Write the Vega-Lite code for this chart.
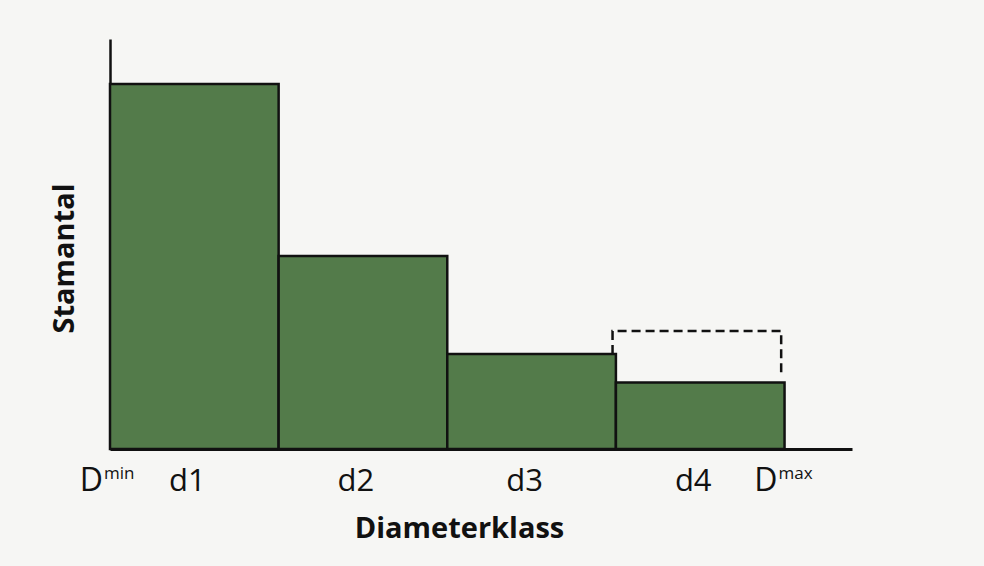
{
  "$schema": "https://vega.github.io/schema/vega-lite/v6.json",
  "width": 742,
  "height": 410,
  "autosize": {"type": "none"},
  "padding": {"left": 110, "top": 39, "right": 132, "bottom": 117},
  "background": "#f6f6f4",
  "config": {"view": {"stroke": null}, "font": "Open Sans"},
  "layer": [
    {
      "data": {"values": [
        {"klass": "d1", "lower": 0, "upper": 1, "stamantal": 89.0},
        {"klass": "d2", "lower": 1, "upper": 2, "stamantal": 47.1},
        {"klass": "d3", "lower": 2, "upper": 3, "stamantal": 23.2},
        {"klass": "d4", "lower": 3, "upper": 4, "stamantal": 16.2}
      ]},
      "mark": {"type": "rect", "fill": "#537b4a", "stroke": "#111111", "strokeWidth": 2.5},
      "encoding": {
        "x": {"field": "lower", "type": "quantitative",
          "scale": {"domain": [0, 4.4], "nice": false, "zero": false},
          "axis": {"title": "Diameterklass", "titleFont": "Open Sans", "titleFontWeight": "bold", "titleFontSize": 29, "titleColor": "#111111",
            "titleX": 349, "titleY": 88, "titleBaseline": "alphabetic", "titleAnchor": null,
            "labels": false, "ticks": false, "grid": false, "domainColor": "#111111", "domainWidth": 3}},
        "x2": {"field": "upper"},
        "y": {"field": "stamantal", "type": "quantitative",
          "scale": {"domain": [0, 100], "nice": false},
          "axis": {"title": "Stamantal", "titleFont": "Open Sans", "titleFontWeight": "bold", "titleFontSize": 29, "titleColor": "#111111",
            "titleX": -37, "titleY": 219, "titleBaseline": "alphabetic", "titleAlign": "center", "titleAngle": 270,
            "labels": false, "ticks": false, "grid": false, "domainColor": "#111111", "domainWidth": 2.5}},
        "y2": {"datum": 0}
      }
    },
    {
      "data": {"values": [
        {"step": 1, "d": 2.98, "n": 23.2},
        {"step": 2, "d": 2.98, "n": 28.8},
        {"step": 3, "d": 3.98, "n": 28.8},
        {"step": 4, "d": 3.98, "n": 18.5}
      ]},
      "mark": {"type": "line", "color": "#111111", "strokeWidth": 2.5, "strokeDash": [9, 5]},
      "encoding": {
        "x": {"field": "d", "type": "quantitative"},
        "y": {"field": "n", "type": "quantitative"},
        "order": {"field": "step"}
      }
    },
    {
      "data": {"values": [
        {"label": "d1", "mid": 0.5},
        {"label": "d2", "mid": 1.5},
        {"label": "d3", "mid": 2.5},
        {"label": "d4", "mid": 3.5}
      ]},
      "mark": {"type": "text", "baseline": "alphabetic", "align": "center", "dx": -7, "dy": 42, "fontSize": 31, "color": "#111111"},
      "encoding": {
        "x": {"field": "mid", "type": "quantitative"},
        "y": {"datum": 0},
        "text": {"field": "label"}
      }
    },
    {
      "data": {"values": [
        {"limit": "Dmin", "at": 0, "main": "D", "sup": "min"},
        {"limit": "Dmax", "at": 4, "main": "D", "sup": "max"}
      ]},
      "layer": [
        {
          "mark": {"type": "text", "baseline": "alphabetic", "align": "right", "dx": -7, "dy": 42, "fontSize": 32, "color": "#111111"},
          "encoding": {
            "x": {"field": "at", "type": "quantitative"},
            "y": {"datum": 0},
            "text": {"field": "main"}
          }
        },
        {
          "mark": {"type": "text", "baseline": "alphabetic", "align": "left", "dx": -6, "dy": 30, "fontSize": 17, "color": "#111111"},
          "encoding": {
            "x": {"field": "at", "type": "quantitative"},
            "y": {"datum": 0},
            "text": {"field": "sup"}
          }
        }
      ]
    }
  ]
}
